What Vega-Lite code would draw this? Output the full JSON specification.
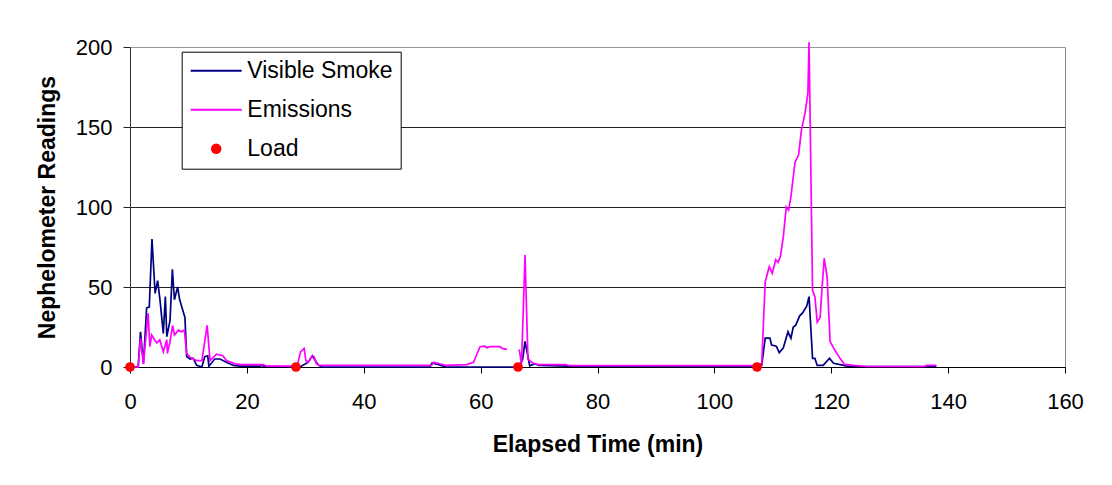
{
  "$schema": "https://vega.github.io/schema/vega-lite/v6.json",
  "width": 935,
  "height": 320,
  "autosize": {"type": "none"},
  "padding": {"left": 130, "top": 47, "right": 47, "bottom": 118},
  "background": "white",
  "config": {"font": "Liberation Sans", "view": {"stroke": "#888", "strokeWidth": 1}},
  "datasets": {
    "smoke": [
      {"t": 0, "v": 0, "s": "Visible Smoke"}, {"t": 1.4, "v": 0, "s": "Visible Smoke"}, {"t": 1.8, "v": 22, "s": "Visible Smoke"},
      {"t": 2.3, "v": 2, "s": "Visible Smoke"}, {"t": 2.85, "v": 37, "s": "Visible Smoke"}, {"t": 3.3, "v": 37.5, "s": "Visible Smoke"},
      {"t": 3.76, "v": 80, "s": "Visible Smoke"}, {"t": 4.3, "v": 46, "s": "Visible Smoke"}, {"t": 4.73, "v": 54, "s": "Visible Smoke"},
      {"t": 5.13, "v": 42, "s": "Visible Smoke"}, {"t": 5.7, "v": 21, "s": "Visible Smoke"}, {"t": 6.05, "v": 44, "s": "Visible Smoke"},
      {"t": 6.3, "v": 19, "s": "Visible Smoke"}, {"t": 6.85, "v": 29, "s": "Visible Smoke"}, {"t": 7.25, "v": 61, "s": "Visible Smoke"},
      {"t": 7.6, "v": 42, "s": "Visible Smoke"}, {"t": 8.15, "v": 50, "s": "Visible Smoke"}, {"t": 8.5, "v": 42, "s": "Visible Smoke"},
      {"t": 9.4, "v": 31, "s": "Visible Smoke"}, {"t": 9.7, "v": 6.5, "s": "Visible Smoke"}, {"t": 10.3, "v": 5, "s": "Visible Smoke"},
      {"t": 10.8, "v": 5.5, "s": "Visible Smoke"}, {"t": 11.4, "v": 1, "s": "Visible Smoke"}, {"t": 12.3, "v": 0, "s": "Visible Smoke"},
      {"t": 12.8, "v": 6.5, "s": "Visible Smoke"}, {"t": 13.3, "v": 7, "s": "Visible Smoke"}, {"t": 13.5, "v": 0.5, "s": "Visible Smoke"},
      {"t": 14.5, "v": 5, "s": "Visible Smoke"}, {"t": 15.4, "v": 5, "s": "Visible Smoke"}, {"t": 16.5, "v": 3, "s": "Visible Smoke"},
      {"t": 17.7, "v": 1, "s": "Visible Smoke"}, {"t": 18.8, "v": 0.5, "s": "Visible Smoke"}, {"t": 22.2, "v": 0.5, "s": "Visible Smoke"},
      {"t": 22.6, "v": 1, "s": "Visible Smoke"}, {"t": 23.0, "v": 0.3, "s": "Visible Smoke"}, {"t": 26.7, "v": 0.3, "s": "Visible Smoke"},
      {"t": 28.4, "v": 0, "s": "Visible Smoke"}, {"t": 29.1, "v": 0, "s": "Visible Smoke"}, {"t": 30.5, "v": 3, "s": "Visible Smoke"},
      {"t": 31.2, "v": 7, "s": "Visible Smoke"}, {"t": 31.9, "v": 3, "s": "Visible Smoke"}, {"t": 32.3, "v": 1, "s": "Visible Smoke"},
      {"t": 32.8, "v": 0, "s": "Visible Smoke"}, {"t": 51.3, "v": 0, "s": "Visible Smoke"}, {"t": 51.7, "v": 2.5, "s": "Visible Smoke"},
      {"t": 52.3, "v": 2, "s": "Visible Smoke"}, {"t": 53.2, "v": 1, "s": "Visible Smoke"}, {"t": 54, "v": 0, "s": "Visible Smoke"},
      {"t": 66.6, "v": 0, "s": "Visible Smoke"}, {"t": 67.2, "v": 5, "s": "Visible Smoke"}, {"t": 67.6, "v": 16, "s": "Visible Smoke"},
      {"t": 68.4, "v": 0.7, "s": "Visible Smoke"}, {"t": 69.3, "v": 2, "s": "Visible Smoke"}, {"t": 70, "v": 1, "s": "Visible Smoke"},
      {"t": 75, "v": 0.5, "s": "Visible Smoke"}, {"t": 107.5, "v": 0.3, "s": "Visible Smoke"}, {"t": 108.1, "v": 1, "s": "Visible Smoke"},
      {"t": 108.7, "v": 18, "s": "Visible Smoke"}, {"t": 109.5, "v": 18, "s": "Visible Smoke"}, {"t": 109.8, "v": 13.7, "s": "Visible Smoke"},
      {"t": 110.6, "v": 13, "s": "Visible Smoke"}, {"t": 111.1, "v": 9, "s": "Visible Smoke"}, {"t": 111.8, "v": 12, "s": "Visible Smoke"},
      {"t": 112.6, "v": 22, "s": "Visible Smoke"}, {"t": 113.1, "v": 18, "s": "Visible Smoke"}, {"t": 113.5, "v": 25, "s": "Visible Smoke"},
      {"t": 113.9, "v": 26, "s": "Visible Smoke"}, {"t": 114.6, "v": 32, "s": "Visible Smoke"}, {"t": 115.1, "v": 33.8, "s": "Visible Smoke"},
      {"t": 115.8, "v": 38, "s": "Visible Smoke"}, {"t": 116.2, "v": 44, "s": "Visible Smoke"}, {"t": 116.8, "v": 5.4, "s": "Visible Smoke"},
      {"t": 117.2, "v": 5.4, "s": "Visible Smoke"}, {"t": 117.6, "v": 1, "s": "Visible Smoke"}, {"t": 118.6, "v": 1, "s": "Visible Smoke"},
      {"t": 119.7, "v": 5.4, "s": "Visible Smoke"}, {"t": 120.4, "v": 2.3, "s": "Visible Smoke"}, {"t": 121.5, "v": 1.5, "s": "Visible Smoke"},
      {"t": 122.7, "v": 0.5, "s": "Visible Smoke"}, {"t": 126, "v": 0.3, "s": "Visible Smoke"}, {"t": 136, "v": 0.3, "s": "Visible Smoke"},
      {"t": 138, "v": 0.3, "s": "Visible Smoke"}
    ],
    "emis": [
      {"t": 0, "v": 0, "s": "Emissions", "seg": 1}, {"t": 1.4, "v": 0, "s": "Emissions", "seg": 1}, {"t": 1.8, "v": 18, "s": "Emissions", "seg": 1},
      {"t": 2.3, "v": 2, "s": "Emissions", "seg": 1}, {"t": 3.1, "v": 33.5, "s": "Emissions", "seg": 1}, {"t": 3.4, "v": 12.7, "s": "Emissions", "seg": 1},
      {"t": 3.7, "v": 20, "s": "Emissions", "seg": 1}, {"t": 4.2, "v": 17, "s": "Emissions", "seg": 1}, {"t": 4.6, "v": 15, "s": "Emissions", "seg": 1},
      {"t": 5.1, "v": 17, "s": "Emissions", "seg": 1}, {"t": 5.7, "v": 9.6, "s": "Emissions", "seg": 1}, {"t": 6.3, "v": 17, "s": "Emissions", "seg": 1},
      {"t": 6.4, "v": 8.5, "s": "Emissions", "seg": 1}, {"t": 6.8, "v": 15, "s": "Emissions", "seg": 1}, {"t": 7.3, "v": 26, "s": "Emissions", "seg": 1},
      {"t": 7.6, "v": 20, "s": "Emissions", "seg": 1}, {"t": 8.3, "v": 23, "s": "Emissions", "seg": 1}, {"t": 8.8, "v": 22, "s": "Emissions", "seg": 1},
      {"t": 9.3, "v": 23, "s": "Emissions", "seg": 1}, {"t": 9.7, "v": 8.5, "s": "Emissions", "seg": 1}, {"t": 10.3, "v": 6, "s": "Emissions", "seg": 1},
      {"t": 11.4, "v": 4, "s": "Emissions", "seg": 1}, {"t": 12.3, "v": 4, "s": "Emissions", "seg": 1}, {"t": 13.2, "v": 26, "s": "Emissions", "seg": 1},
      {"t": 13.7, "v": 4, "s": "Emissions", "seg": 1}, {"t": 14.8, "v": 8, "s": "Emissions", "seg": 1}, {"t": 15.9, "v": 7, "s": "Emissions", "seg": 1},
      {"t": 16.5, "v": 4, "s": "Emissions", "seg": 1}, {"t": 18, "v": 2, "s": "Emissions", "seg": 1}, {"t": 19.1, "v": 1.5, "s": "Emissions", "seg": 1},
      {"t": 22.8, "v": 1.5, "s": "Emissions", "seg": 1}, {"t": 23.4, "v": 0.5, "s": "Emissions", "seg": 1}, {"t": 28.6, "v": 0.5, "s": "Emissions", "seg": 1},
      {"t": 29.2, "v": 9.6, "s": "Emissions", "seg": 1}, {"t": 29.8, "v": 11.6, "s": "Emissions", "seg": 1}, {"t": 30.1, "v": 4, "s": "Emissions", "seg": 1},
      {"t": 30.5, "v": 3, "s": "Emissions", "seg": 1}, {"t": 31.1, "v": 6.5, "s": "Emissions", "seg": 1}, {"t": 31.5, "v": 6.5, "s": "Emissions", "seg": 1},
      {"t": 31.9, "v": 2, "s": "Emissions", "seg": 1}, {"t": 32.5, "v": 1, "s": "Emissions", "seg": 1}, {"t": 51.6, "v": 1, "s": "Emissions", "seg": 1},
      {"t": 52, "v": 3, "s": "Emissions", "seg": 1}, {"t": 52.5, "v": 2.5, "s": "Emissions", "seg": 1}, {"t": 54, "v": 1, "s": "Emissions", "seg": 1},
      {"t": 57.6, "v": 1.5, "s": "Emissions", "seg": 1}, {"t": 58.8, "v": 3, "s": "Emissions", "seg": 1}, {"t": 59.3, "v": 7.5, "s": "Emissions", "seg": 1},
      {"t": 59.9, "v": 12.7, "s": "Emissions", "seg": 1}, {"t": 60.7, "v": 13, "s": "Emissions", "seg": 1}, {"t": 61.1, "v": 12, "s": "Emissions", "seg": 1},
      {"t": 61.6, "v": 12.7, "s": "Emissions", "seg": 1}, {"t": 63.3, "v": 12.7, "s": "Emissions", "seg": 1}, {"t": 63.8, "v": 11.5, "s": "Emissions", "seg": 1},
      {"t": 64.5, "v": 11, "s": "Emissions", "seg": 1},
      {"t": 66.6, "v": 11, "s": "Emissions", "seg": 2}, {"t": 67.0, "v": 2, "s": "Emissions", "seg": 2}, {"t": 67.6, "v": 70, "s": "Emissions", "seg": 2},
      {"t": 68.1, "v": 5, "s": "Emissions", "seg": 2}, {"t": 68.7, "v": 3, "s": "Emissions", "seg": 2}, {"t": 69.3, "v": 2, "s": "Emissions", "seg": 2},
      {"t": 70, "v": 1.5, "s": "Emissions", "seg": 2}, {"t": 74.6, "v": 1.5, "s": "Emissions", "seg": 2}, {"t": 75.2, "v": 0.8, "s": "Emissions", "seg": 2},
      {"t": 107.5, "v": 0.8, "s": "Emissions", "seg": 2}, {"t": 108.1, "v": 2.3, "s": "Emissions", "seg": 2}, {"t": 108.7, "v": 53.3, "s": "Emissions", "seg": 2},
      {"t": 109.4, "v": 62.7, "s": "Emissions", "seg": 2}, {"t": 109.9, "v": 58.5, "s": "Emissions", "seg": 2}, {"t": 110.5, "v": 67, "s": "Emissions", "seg": 2},
      {"t": 110.9, "v": 65.4, "s": "Emissions", "seg": 2}, {"t": 111.3, "v": 69, "s": "Emissions", "seg": 2}, {"t": 111.8, "v": 81.5, "s": "Emissions", "seg": 2},
      {"t": 112.3, "v": 100, "s": "Emissions", "seg": 2}, {"t": 112.7, "v": 98, "s": "Emissions", "seg": 2}, {"t": 113.1, "v": 106.5, "s": "Emissions", "seg": 2},
      {"t": 113.8, "v": 128, "s": "Emissions", "seg": 2}, {"t": 114.4, "v": 132.5, "s": "Emissions", "seg": 2}, {"t": 114.9, "v": 148, "s": "Emissions", "seg": 2},
      {"t": 115.5, "v": 158.5, "s": "Emissions", "seg": 2}, {"t": 116.0, "v": 171, "s": "Emissions", "seg": 2}, {"t": 116.2, "v": 203, "s": "Emissions", "seg": 2},
      {"t": 116.8, "v": 48, "s": "Emissions", "seg": 2}, {"t": 117.2, "v": 44, "s": "Emissions", "seg": 2}, {"t": 117.6, "v": 28, "s": "Emissions", "seg": 2},
      {"t": 118.1, "v": 31, "s": "Emissions", "seg": 2}, {"t": 118.4, "v": 48, "s": "Emissions", "seg": 2}, {"t": 118.8, "v": 68, "s": "Emissions", "seg": 2},
      {"t": 119.3, "v": 56, "s": "Emissions", "seg": 2}, {"t": 119.8, "v": 16, "s": "Emissions", "seg": 2}, {"t": 120.6, "v": 10.6, "s": "Emissions", "seg": 2},
      {"t": 121.5, "v": 5.4, "s": "Emissions", "seg": 2}, {"t": 122.3, "v": 1.6, "s": "Emissions", "seg": 2}, {"t": 123.8, "v": 1, "s": "Emissions", "seg": 2},
      {"t": 126.1, "v": 0.3, "s": "Emissions", "seg": 2}, {"t": 136, "v": 0.3, "s": "Emissions", "seg": 2}, {"t": 136.3, "v": 1, "s": "Emissions", "seg": 2},
      {"t": 138, "v": 1, "s": "Emissions", "seg": 2}
    ],
    "load": [
      {"t": 0, "v": 0, "s": "Load"}, {"t": 28.4, "v": 0, "s": "Load"}, {"t": 66.4, "v": 0, "s": "Load"}, {"t": 107.3, "v": 0, "s": "Load"}
    ]
  },
  "encoding": {
    "x": {
      "field": "t", "type": "quantitative",
      "scale": {"domain": [0, 160], "nice": false, "zero": false},
      "axis": {
        "title": "Elapsed Time (min)", "values": [0, 20, 40, 60, 80, 100, 120, 140, 160],
        "grid": false, "tickSize": 6, "tickColor": "#000", "domainColor": "#000",
        "labelFontSize": 22, "labelColor": "#000", "labelPadding": 18, "labelFlush": false, "labelOverlap": false,
        "titleFontSize": 23, "titleFontWeight": "bold", "titleColor": "#000", "titlePadding": 21
      }
    },
    "y": {
      "field": "v", "type": "quantitative",
      "scale": {"domain": [0, 200], "nice": false},
      "axis": {
        "title": "Nephelometer Readings", "values": [0, 50, 100, 150, 200],
        "grid": true, "gridColor": {"condition": {"test": "datum.value === 200", "value": "#999"}, "value": "#222"},
        "tickSize": 7, "tickColor": "#222", "domainColor": "#333",
        "labelFontSize": 22, "labelColor": "#000", "labelPadding": 11,
        "titleFontSize": 23, "titleFontWeight": "bold", "titleColor": "#000", "titlePadding": 16
      }
    },
    "color": {
      "field": "s", "type": "nominal",
      "scale": {"domain": ["Visible Smoke", "Emissions", "Load"], "range": ["#000080", "#FF00FF", "#FF0000"]},
      "legend": {
        "title": null, "orient": "none", "legendX": 51.7, "legendY": 4.7, "direction": "vertical",
        "padding": 8, "strokeColor": "#000", "fillColor": "#fff",
        "labelFontSize": 23, "labelColor": "#000", "labelOffset": 19.6, "symbolOffset": 15,
        "clipHeight": 22, "rowPadding": 16, "symbolSize": 2601, "symbolStrokeWidth": 2, "symbolType": "stroke",
        "encode": {
          "symbols": {
            "update": {
              "shape": {"signal": "datum.value === 'Load' ? 'circle' : 'stroke'"},
              "size": {"signal": "datum.value === 'Load' ? 110 : 2601"},
              "fill": {"signal": "datum.value === 'Load' ? '#FF0000' : 'transparent'"},
              "stroke": {"signal": "datum.value === 'Visible Smoke' ? '#000080' : datum.value === 'Emissions' ? '#FF00FF' : 'transparent'"},
              "strokeWidth": {"signal": "datum.value === 'Load' ? 0 : 2"},
              "opacity": {"value": 1},
              "fillOpacity": {"value": 1},
              "strokeOpacity": {"value": 1}
            }
          }
        }
      }
    }
  },
  "layer": [
    {"data": {"name": "smoke"}, "mark": {"type": "line", "strokeWidth": 1.7}},
    {"data": {"name": "emis"}, "mark": {"type": "line", "strokeWidth": 1.7}, "encoding": {"detail": {"field": "seg", "type": "nominal"}}},
    {"data": {"name": "load"}, "mark": {"type": "point", "filled": true, "size": 95, "opacity": 1, "shape": "circle"}}
  ]
}
